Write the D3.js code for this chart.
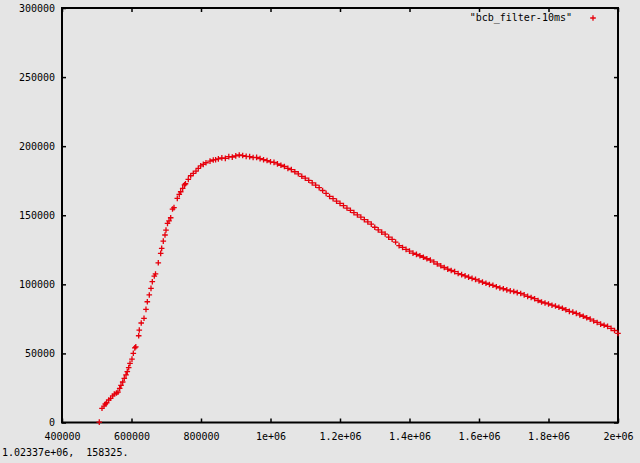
<!DOCTYPE html>
<html><head><meta charset="utf-8">
<script src="https://cdn.jsdelivr.net/npm/d3@7"></script>
<style>
html,body{margin:0;padding:0;background:#e5e5e5;}
svg{display:block;}
text{font-family:"DejaVu Sans Mono",monospace;font-size:10px;fill:#000;}
</style></head><body>
<svg id="c" width="640" height="463"></svg>
<script>
// ---- data ----
const seriesName = "\"bcb_filter-10ms\"";
const xTicks = [400000,600000,800000,1000000,1200000,1400000,1600000,1800000,2000000];
const xTickLabels = ["400000","600000","800000","1e+06","1.2e+06","1.4e+06","1.6e+06","1.8e+06","2e+06"];
const yTicks = [0,50000,100000,150000,200000,250000,300000];
const yTickLabels = ["0","50000","100000","150000","200000","250000","300000"];
const statusText = "1.02337e+06,  158325.";

// steep rising part (individual markers)
const xRise = [507300,515100,520900,524600,528600,534400,540100,545900,550500,556800,561100,566000,569800,574700,579300,584200,587900,591900,595700,601400,605200,609500,612400,620700,622400,628000,636000,641700,645500,651200,656100,659900,665600,669100,677100,684000,686900,691500,696400,699300,703600,708000,712800,718000,722300,731800,737500,741600,747300,752500,755400,763400,770400,777800,785600,792200,799100,806600,814400,825900,835400,842000];
const yRise = [300,10270,11900,13400,14300,16300,17500,19200,20600,21300,22000,24700,26900,29300,32000,34400,36800,39700,42800,45900,50100,54000,54800,62800,66900,72000,75400,81900,87400,92300,97100,101900,106000,107500,115600,122400,126000,131300,135700,139300,144100,146000,148200,154500,155500,162200,165100,167000,169500,172000,172800,176000,178600,180300,182000,183900,185800,186800,188000,189200,190000,190200];

// dense part, x = 850000 .. 2000000 every 10000
const xDenseStart = 850000, xDenseStep = 10000;
const yDense = [190800,191500,191200,192400,192100,193000,193600,193200,192600,192400,
191800,191900,191000,190200,189600,188700,188300,187200,186200,185300,
183900,183000,181500,180000,178200,176800,175300,173400,171800,170000,
167900,165800,163600,162000,160200,158600,157000,155200,153600,151900,
150200,148700,146800,145200,143600,141300,139400,137800,136400,134200,
132600,130600,128000,126700,125300,124000,122600,121700,120700,119600,
118500,117500,116200,114700,113400,112200,111000,110000,109200,107800,
107000,106100,105200,104300,103600,102500,101600,100800,99900,99300,
98300,97400,96800,96000,95300,94800,94000,93400,92400,91300,
90500,89600,88300,87200,86500,85800,84900,84300,83400,82700,
81600,80400,79900,79000,77900,76900,75800,74800,73500,72400,
71200,70400,69600,68100,66600,64500];

// ---- build ----
const points = xRise.map((x,i)=>({x, y:yRise[i]}))
  .concat(yDense.map((y,i)=>({x: xDenseStart + i*xDenseStep, y})));

const W = 640, H = 463;
const L = 62, R = 618, T = 8, B = 422.5;
const svg = d3.select("#c");
svg.append("rect").attr("width",W).attr("height",H).attr("fill","#e5e5e5");

const x = d3.scaleLinear().domain([400000,2000000]).range([L,R]);
const y = d3.scaleLinear().domain([0,300000]).range([B,T]);

function styleAxis(g){
  g.select(".domain").remove();
  g.selectAll(".tick line").attr("stroke","#000").attr("stroke-width",1.5);
  g.selectAll("text").attr("fill","#000").style("font-family","'DejaVu Sans Mono',monospace").style("font-size","10px");
}

svg.append("g").attr("transform",`translate(0,${B})`)
  .call(d3.axisBottom(x).tickValues(xTicks).tickSize(-4).tickPadding(10)
    .tickFormat((d,i)=>xTickLabels[i]))
  .call(styleAxis);
svg.append("g").attr("transform",`translate(0,${T})`)
  .call(d3.axisTop(x).tickValues(xTicks).tickSize(-4).tickFormat(""))
  .call(styleAxis);
svg.append("g").attr("transform",`translate(${L},0)`)
  .call(d3.axisLeft(y).tickValues(yTicks).tickSize(-4).tickPadding(7)
    .tickFormat((d,i)=>yTickLabels[i]))
  .call(styleAxis);
svg.append("g").attr("transform",`translate(${R},0)`)
  .call(d3.axisRight(y).tickValues(yTicks).tickSize(-4).tickFormat(""))
  .call(styleAxis);

svg.append("rect").attr("x",L).attr("y",T).attr("width",R-L).attr("height",B-T)
  .attr("fill","none").attr("stroke","#000").attr("stroke-width",2);

const color = "#e6000c";
const s = 2.8;
const plus = (cx,cy)=>`M${cx-s},${cy}H${cx+s}M${cx},${cy-s}V${cy+s}`;

svg.append("path")
  .attr("d", points.map(p=>plus(x(p.x), y(p.y))).join(""))
  .attr("stroke", color).attr("stroke-width",1.3).attr("fill","none");

// legend
svg.append("text").attr("x",572).attr("y",21).attr("text-anchor","end").text(seriesName);
svg.append("path").attr("d",plus(593,18)).attr("stroke",color).attr("stroke-width",1.3);

// status line
svg.append("text").attr("x",2).attr("y",456).attr("xml:space","preserve").style("white-space","pre").text(statusText);
</script>
</body></html>
